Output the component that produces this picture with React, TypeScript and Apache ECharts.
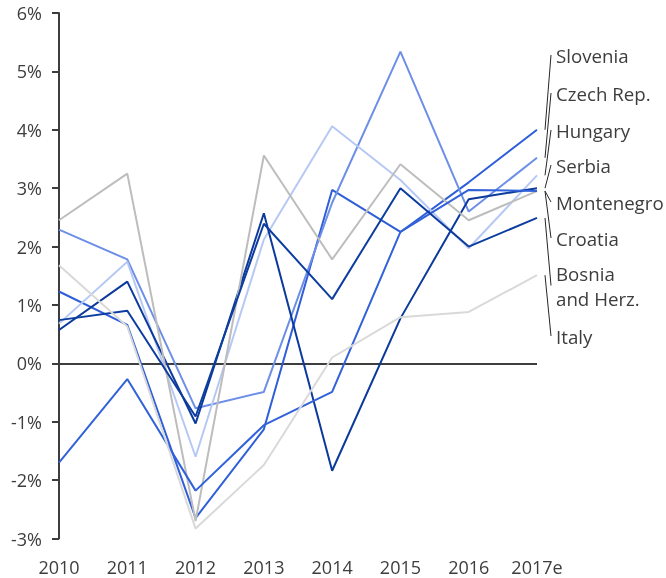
import React, { useEffect, useRef } from "react";
import * as echarts from "echarts";

const years = ["2010", "2011", "2012", "2013", "2014", "2015", "2016", "2017e"];
const yTicks = { min: -3, max: 6, interval: 1 };

const slovenia = [1.23, 0.66, -2.65, -1.13, 2.97, 2.25, 3.1, 4.0];
const czech = [2.29, 1.78, -0.77, -0.49, 2.75, 5.34, 2.6, 3.52];
const hungary = [0.68, 1.74, -1.6, 2.12, 4.06, 3.14, 1.97, 3.22];
const serbia = [0.57, 1.4, -1.03, 2.57, -1.84, 0.77, 2.81, 3.0];
const montenegro = [2.45, 3.25, -2.7, 3.56, 1.78, 3.41, 2.45, 2.95];
const croatia = [-1.7, -0.27, -2.18, -1.06, -0.49, 2.25, 2.97, 2.95];
const bosnia = [0.74, 0.9, -0.91, 2.39, 1.1, 3.0, 2.0, 2.49];
const italy = [1.68, 0.63, -2.83, -1.74, 0.1, 0.79, 0.88, 1.51];

const seriesNames = ["Slovenia", "Czech Rep.", "Hungary", "Serbia", "Montenegro", "Croatia", "Bosnia and Herz.", "Italy"];
const labelTexts = ["Slovenia", "Czech Rep.", "Hungary", "Serbia", "Montenegro", "Croatia", "Bosnia\nand Herz.", "Italy"];
const seriesData = [slovenia, czech, hungary, serbia, montenegro, croatia, bosnia, italy];
const seriesColors = ["#2f5fd8", "#6e8fe8", "#b6c8f4", "#0b3a9c", "#bdbdbd", "#3262da", "#0d3d9f", "#d9d9d9"];

// label slot centres (layout only)
const labelSlotY = [55, 93, 130, 165, 202, 238, 285.5, 336];

const TEXT = "#3d3d3d";
const FONT = "'Open Sans', sans-serif";

export default function App() {
  const ref = useRef<HTMLDivElement>(null);

  useEffect(() => {
    if (!ref.current) return;
    const chart = echarts.init(ref.current, undefined, { renderer: "svg" });
    const option: any = {
      animation: false,
      grid: { left: 59, right: 129, top: 13, bottom: 39.5, containLabel: false },
      xAxis: {
        type: "category",
        data: years,
        boundaryGap: false,
        axisLine: { show: false, onZero: false },
        axisTick: { show: false },
        splitLine: { show: false },
        axisLabel: { color: TEXT, fontSize: 18, fontFamily: FONT, margin: 19 },
      },
      yAxis: {
        type: "value",
        min: yTicks.min,
        max: yTicks.max,
        interval: yTicks.interval,
        splitLine: { show: false },
        axisLine: { show: true, lineStyle: { color: TEXT, width: 2 } },
        axisTick: { show: true, length: 7, lineStyle: { color: TEXT, width: 2 } },
        axisLabel: { color: TEXT, fontSize: 18, fontFamily: FONT, margin: 17, formatter: "{value}%" },
      },
      series: seriesData.map((d, i) => ({
        name: seriesNames[i],
        type: "line",
        data: d,
        symbol: "none",
        lineStyle: { color: seriesColors[i], width: 2 },
        itemStyle: { color: seriesColors[i] },
        z: 2,
        ...(i === 0
          ? {
              markLine: {
                silent: true,
                symbol: "none",
                label: { show: false },
                lineStyle: { color: TEXT, width: 2, type: "solid" },
                data: [{ yAxis: 0 }],
                z: 1,
              },
            }
          : {}),
      })),
    };
    chart.setOption(option);

    const graphics: any[] = [];
    seriesData.forEach((d, i) => {
      const p = chart.convertToPixel({ xAxisIndex: 0, yAxisIndex: 0 }, [years.length - 1, d[d.length - 1]]) as number[];
      const ly = labelSlotY[i];
      graphics.push({
        type: "line",
        shape: { x1: p[0] + 8, y1: p[1], x2: p[0] + 14, y2: ly },
        style: { stroke: "#262626", lineWidth: 1 },
        silent: true,
      });
      graphics.push({
        type: "text",
        x: p[0] + 19,
        y: ly,
        style: {
          text: labelTexts[i],
          fill: TEXT,
          font: `18.7px ${FONT}`,
          textVerticalAlign: "middle",
          verticalAlign: "middle",
          lineHeight: 25,
        },
        silent: true,
      });
    });
    chart.setOption({ graphic: graphics });

    return () => chart.dispose();
  }, []);

  return <div ref={ref} style={{ position: "fixed", left: 0, top: 0, width: 666, height: 578 }} />;
}
